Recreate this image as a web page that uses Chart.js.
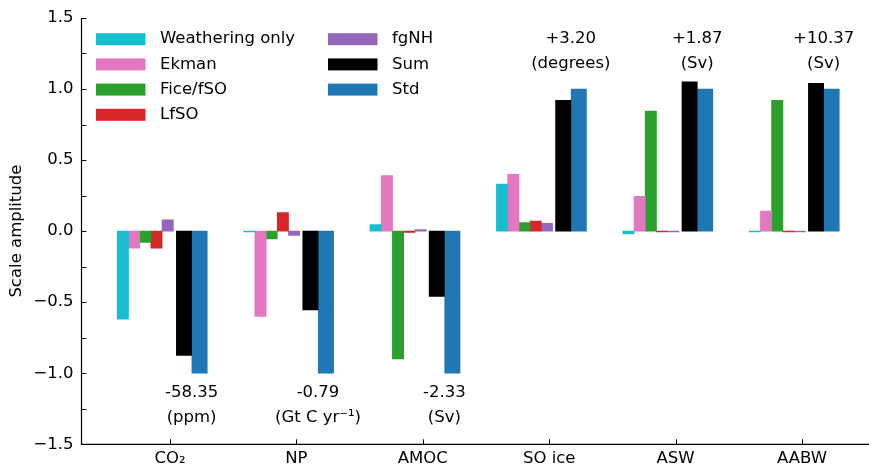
<!DOCTYPE html>
<html>
<head>
<meta charset="utf-8">
<script src="https://cdn.jsdelivr.net/npm/chart.js@4/dist/chart.umd.min.js"></script>
<style>
  html, body { margin: 0; padding: 0; background: #fff; }
  #wrap { width: 869px; height: 468px; }
</style>
</head>
<body>
<div id="wrap"><canvas id="c" width="869" height="468"></canvas></div>
<script>
// Response of each diagnostic, scaled so that the standard run equals ±1
const categories = ['CO\u2082', 'NP', 'AMOC', 'SO ice', 'ASW', 'AABW'];

const weatheringOnly = [-0.62, -0.005,  0.045,  0.33, -0.02, -0.005];
const ekman          = [-0.12, -0.60,   0.39,   0.40,  0.245, 0.14];
const ficeFSO        = [-0.08, -0.055, -0.90,   0.06,  0.845, 0.92];
const lfSO           = [-0.12,  0.13,  -0.01,   0.07, -0.005,-0.005];
const fgNH           = [ 0.08, -0.03,   0.01,   0.055,-0.005,-0.005];
const sumOfParts     = [-0.875,-0.555, -0.46,   0.92,  1.05,  1.04];
const stdRun         = [-1.0,  -1.0,   -1.0,    1.0,   1.0,   1.0];

// Absolute change in the standard run, with units
const stdChange = ['-58.35', '-0.79', '-2.33', '+3.20', '+1.87', '+10.37'];
const stdUnits  = ['(ppm)', '(Gt C yr\u207B\u00B9)', '(Sv)', '(degrees)', '(Sv)', '(Sv)'];

const yTickValues = [-1.5, -1.0, -0.5, 0.0, 0.5, 1.0, 1.5];

const FONT = '"DejaVu Sans", "Liberation Sans", sans-serif';
const FS = 16.5;

// series: label, values, colour, offset from category centre (axis units), bar width (px)
const series = [
  ['Weathering only', weatheringOnly, '#17becf', -0.373, 11.3],
  ['Ekman',           ekman,          '#e377c2', -0.284, 11.3],
  ['Fice/fSO',        ficeFSO,        '#2ca02c', -0.196, 11.3],
  ['LfSO',            lfSO,           '#d62728', -0.107, 11.3],
  ['fgNH',            fgNH,           '#9467bd', -0.018, 11.3],
  ['Sum',             sumOfParts,     '#000000',  0.111, 15.3],
  ['Std',             stdRun,         '#1f77b4',  0.234, 15.3]
];

const datasets = series.map(([label, vals, color, off, w]) => ({
  label,
  data: vals.map((v, i) => ({ x: i + off, y: v })),
  backgroundColor: color,
  borderWidth: 0,
  barThickness: w,
  grouped: false
}));

const minus = s => s.replace(/^-/, '\u2212');

// axis lines, inward ticks, two-column legend, and the absolute-change labels
const decorations = {
  id: 'decorations',
  afterDatasetsDraw(chart) {
    const ctx = chart.ctx;
    const xs = chart.scales.x, ys = chart.scales.y;
    const a = chart.chartArea;
    ctx.save();
    ctx.strokeStyle = '#000';
    ctx.lineWidth = 1.2;
    ctx.beginPath();
    ctx.moveTo(a.left, a.top);
    ctx.lineTo(a.left, a.bottom);
    ctx.lineTo(a.right, a.bottom);
    ctx.stroke();
    ctx.lineWidth = 1;
    ctx.beginPath();
    for (let v = -1.5; v <= 1.5001; v += 0.25) {
      const y = Math.round(ys.getPixelForValue(v)) + 0.5;
      ctx.moveTo(a.left, y);
      ctx.lineTo(a.left + 5, y);
    }
    categories.forEach((c, i) => {
      const x = Math.round(xs.getPixelForValue(i)) + 0.5;
      ctx.moveTo(x, a.bottom);
      ctx.lineTo(x, a.bottom - 5);
    });
    ctx.stroke();

    // change in the standard run
    ctx.fillStyle = '#000';
    ctx.font = FS + 'px ' + FONT;
    ctx.textAlign = 'center';
    ctx.textBaseline = 'middle';
    categories.forEach((c, i) => {
      const x = xs.getPixelForValue(i + 0.171);
      const neg = stdRun[i] < 0;
      const y1 = ys.getPixelForValue(neg ? -1.14 : 1.355);
      const y2 = ys.getPixelForValue(neg ? -1.312 : 1.18);
      ctx.fillText(stdChange[i], x, y1);
      ctx.fillText(stdUnits[i], x, y2);
    });

    // legend, filled column by column
    ctx.textAlign = 'left';
    chart.data.datasets.forEach((ds, k) => {
      const col = k < 4 ? 0 : 1;
      const row = k < 4 ? k : k - 4;
      const bx = col === 0 ? 96 : 328;
      const cy = 39.2 + row * 25.2;
      ctx.fillStyle = ds.backgroundColor;
      ctx.fillRect(bx, cy - 6, 49.5, 12);
      ctx.fillStyle = '#000';
      ctx.fillText(ds.label, bx + 64, cy);
    });
    ctx.restore();
  }
};

new Chart(document.getElementById('c'), {
  type: 'bar',
  data: { datasets },
  options: {
    responsive: false,
    animation: false,
    devicePixelRatio: 1,
    layout: { padding: { top: 16, right: 0, bottom: 0, left: 0 } },
    plugins: { legend: { display: false }, tooltip: { enabled: false } },
    scales: {
      x: {
        type: 'linear',
        offset: false,
        min: -0.70,
        max: 5.53,
        grid: { display: false, drawTicks: false },
        border: { display: false },
        afterBuildTicks: s => { s.ticks = categories.map((c, i) => ({ value: i })); },
        afterFit: s => { s.height = 23.7; },
        ticks: {
          autoSkip: false,
          maxRotation: 0,
          padding: 5,
          color: '#000',
          font: { family: FONT, size: FS },
          callback: v => categories[v] ?? ''
        }
      },
      y: {
        min: -1.5,
        max: 1.5,
        grid: { display: false, drawTicks: false },
        border: { display: false },
        afterBuildTicks: s => { s.ticks = yTickValues.map(v => ({ value: v })); },
        afterFit: s => { s.width = 81.5; },
        ticks: {
          padding: 8,
          color: '#000',
          font: { family: FONT, size: FS },
          callback: v => minus(v.toFixed(1))
        },
        title: {
          display: true,
          text: 'Scale amplitude',
          color: '#000',
          font: { family: FONT, size: FS },
          padding: { top: 7, bottom: 0 }
        }
      }
    }
  },
  plugins: [decorations]
});
</script>
</body>
</html>
